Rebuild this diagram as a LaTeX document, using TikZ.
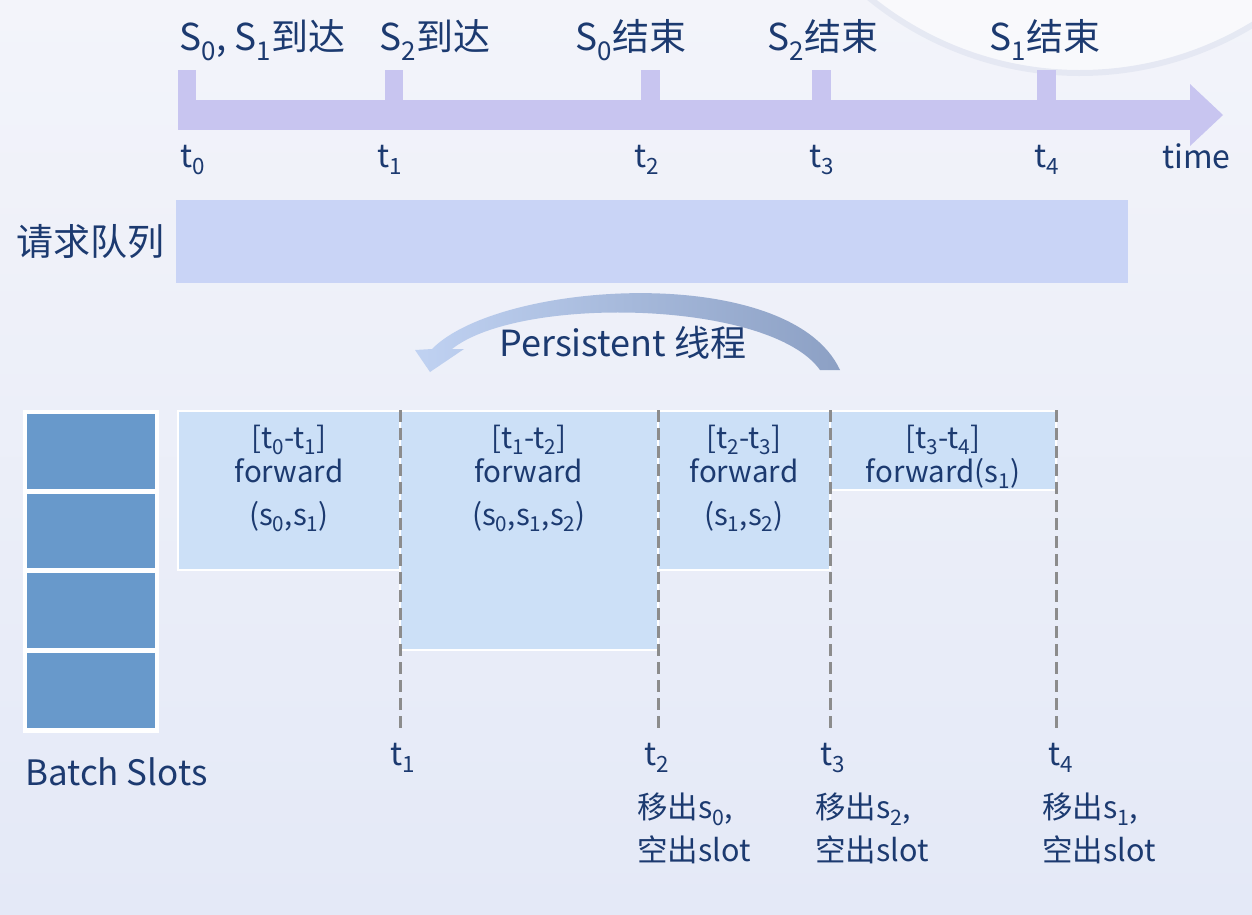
\documentclass[tikz,border=0pt]{standalone}
\usepackage{fontspec}
\setmainfont{Noto Sans CJK SC}
\usetikzlibrary{arrows.meta}
\definecolor{txt}{RGB}{28,58,112}
\definecolor{tline}{RGB}{200,197,240}
\definecolor{queue}{RGB}{201,212,246}
\definecolor{fwd}{RGB}{204,224,247}
\definecolor{slot}{RGB}{104,153,203}
\definecolor{dash}{RGB}{140,140,140}
\definecolor{bgtop}{RGB}{243,244,250}
\definecolor{bgbot}{RGB}{228,233,247}
\definecolor{arrl}{RGB}{192,210,242}
\definecolor{arrr}{RGB}{140,160,196}
\tikzset{
  lbl/.style={text=txt, inner sep=0pt, font=\fontsize{37pt}{40pt}\selectfont},
  blbl/.style={text=txt, inner sep=0pt, align=center, font=\fontsize{29.5pt}{34pt}\selectfont},
  rlbl/.style={text=txt, inner sep=0pt, align=left, font=\fontsize{30.5pt}{43pt}\selectfont},
  tlbl/.style={text=txt, inner sep=0pt, font=\fontsize{32pt}{36pt}\selectfont},
  fwdbox/.style={fill=fwd, draw=white, line width=2pt},
  slotbox/.style={fill=slot, draw=none},
  vdash/.style={draw=dash, line width=3pt, dash pattern=on 12pt off 6pt},
}
\begin{document}
\begin{tikzpicture}[x=1pt,y=-1pt]
\useasboundingbox (0,0) rectangle (1252,914);
\shade[top color=bgtop, bottom color=bgbot] (0,0) rectangle (1252,914);
% faint decoration top right
\fill[white, opacity=0.5] (1080,-260) circle (330pt);
\draw[arrr, opacity=0.12, line width=6pt] (1080,-260) ++(-50:333pt) arc (-50:-150:333pt);
% timeline
\fill[tline] (178,100) rectangle (1192,130);
\fill[tline] (1190,84) -- (1223,115) -- (1190,146) -- cycle;
\fill[tline] (178,70) rectangle (196,100);
\fill[tline] (385,70) rectangle (403,100);
\fill[tline] (641,70) rectangle (660,100);
\fill[tline] (812,70) rectangle (831,100);
\fill[tline] (1037,70) rectangle (1056,100);
\node[lbl, anchor=west] (e0) at (179,40) {S\textsubscript{0}, S\textsubscript{1}到达};
\node[lbl, anchor=west] (e1) at (379,40) {S\textsubscript{2}到达};
\node[lbl, anchor=west] (e2) at (575,40) {S\textsubscript{0}结束};
\node[lbl, anchor=west] (e3) at (767,40) {S\textsubscript{2}结束};
\node[lbl, anchor=west] (e4) at (989,40) {S\textsubscript{1}结束};
\node[tlbl, anchor=west] (t0) at (180,160) {t\textsubscript{0}};
\node[tlbl, anchor=west] (t1) at (377,160) {t\textsubscript{1}};
\node[tlbl, anchor=west] (t2) at (634,160) {t\textsubscript{2}};
\node[tlbl, anchor=west] (t3) at (809,160) {t\textsubscript{3}};
\node[tlbl, anchor=west] (t4) at (1034,160) {t\textsubscript{4}};
\node[tlbl, anchor=west] (time) at (1162,156) {time};
% queue
\node[lbl, anchor=west] (ql) at (16,242) {请求队列};
\fill[queue] (176,200) rectangle (1128,283);
% persistent arrow
\shade[left color=arrl, right color=arrr] (432,349) .. controls (500,280) and (790,262) .. (840,370) -- (820,370) .. controls (770,300) and (520,295) .. (452,349) -- (464,349) -- (430,372) -- (415,350) -- cycle;
\node[lbl, font=\fontsize{36pt}{40pt}\selectfont] (pt) at (623,343) {Persistent 线程};
% batch slots
\fill[white] (23,410) rectangle (159,733);
\fill[slotbox] (27,414) rectangle (155,489);
\fill[slotbox] (27,494) rectangle (155,568);
\fill[slotbox] (27,573) rectangle (155,648);
\fill[slotbox] (27,653) rectangle (155,728);
\node[lbl, anchor=west, font=\fontsize{35pt}{40pt}\selectfont] (bs) at (25,772) {Batch Slots};
% forward boxes
\draw[fwdbox] (178,411) rectangle (400,570);
\draw[fwdbox] (400,411) rectangle (658,650);
\draw[fwdbox] (658,411) rectangle (830,570);
\draw[fwdbox] (830,411) rectangle (1056,490);
\node[blbl, anchor=north] (f1) at (289,425) {[t\textsubscript{0}-t\textsubscript{1}]\\forward\\[9pt](s\textsubscript{0},s\textsubscript{1})};
\node[blbl, anchor=north] (f2) at (529,425) {[t\textsubscript{1}-t\textsubscript{2}]\\forward\\[9pt](s\textsubscript{0},s\textsubscript{1},s\textsubscript{2})};
\node[blbl, anchor=north] (f3) at (744,425) {[t\textsubscript{2}-t\textsubscript{3}]\\forward\\[9pt](s\textsubscript{1},s\textsubscript{2})};
\node[blbl, anchor=north] (f4) at (943,425) {[t\textsubscript{3}-t\textsubscript{4}]\\forward(s\textsubscript{1})};
% dashed lines
\coordinate (d1a) at (400,410); \coordinate (d1b) at (400,730);
\coordinate (d2a) at (658,410); \coordinate (d2b) at (658,730);
\coordinate (d3a) at (830,410); \coordinate (d3b) at (830,730);
\coordinate (d4a) at (1056,410); \coordinate (d4b) at (1056,730);
\draw[vdash] (d1a) -- (d1b);
\draw[vdash] (d2a) -- (d2b);
\draw[vdash] (d3a) -- (d3b);
\draw[vdash] (d4a) -- (d4b);
% bottom labels
\node[tlbl, anchor=west] (b1) at (390,758) {t\textsubscript{1}};
\node[tlbl, anchor=west] (b2) at (644,758) {t\textsubscript{2}};
\node[tlbl, anchor=west] (b3) at (820,758) {t\textsubscript{3}};
\node[tlbl, anchor=west] (b4) at (1048,758) {t\textsubscript{4}};
\node[rlbl, anchor=north west] (r2) at (637,793) {移出s\textsubscript{0},\\空出slot};
\node[rlbl, anchor=north west] (r3) at (815,793) {移出s\textsubscript{2},\\空出slot};
\node[rlbl, anchor=north west] (r4) at (1042,793) {移出s\textsubscript{1},\\空出slot};
\end{tikzpicture}
\end{document}
